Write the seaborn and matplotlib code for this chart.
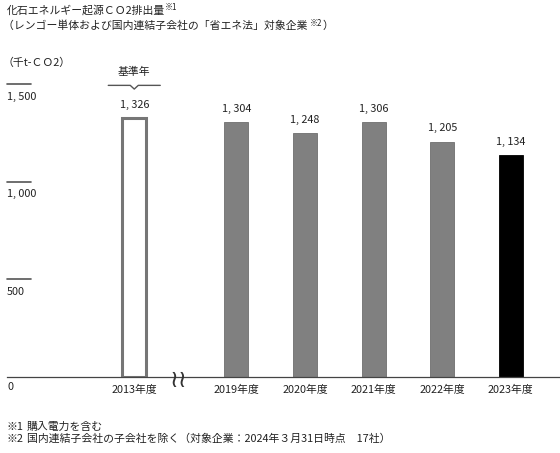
import matplotlib
matplotlib.use("Agg")
import matplotlib.pyplot as plt
import matplotlib.transforms as mtransforms
import pandas as pd
import seaborn as sns

# --- data ---
years = ["2013年度", "2019年度", "2020年度", "2021年度", "2022年度", "2023年度"]
emissions = [1326, 1304, 1248, 1306, 1205, 1134]
y_ticks = [500, 1000, 1500]
notes = [("※1", "購入電力を含む"),
         ("※2", "国内連結子会社の子会社を除く（対象企業：2024年３月31日時点　17社）")]

# --- layout / style ---
x_slots = [0.51, 2, 3, 4, 5, 6]   # gap after the base year
break_slot = 1.15
bar_fill = ["white", "#808080", "#808080", "#808080", "#808080", "#000000"]
bar_edge = ["#767676", "#6e6e6e", "#6e6e6e", "#6e6e6e", "#6e6e6e", "#000000"]
bar_lw = [2.2, 0.6, 0.6, 0.6, 0.6, 0.6]
FS = 7.8


def fmt(v):
    return f"{v:,}".replace(",", ", ")


sns.set_theme(style="white")
plt.rcParams["font.family"] = ["Noto Sans CJK JP", "DejaVu Sans"]

W, H = 560, 453
fig = plt.figure(figsize=(W / 100, H / 100), dpi=100)
ax = fig.add_axes([7 / W, (H - 377) / H, 553 / W, 293 / H])

df = pd.DataFrame({"x": x_slots, "y": emissions, "year": years})
sns.barplot(data=df, x="x", y="y", hue="year", hue_order=years,
            palette=dict(zip(years, bar_fill)), saturation=1,
            native_scale=True, width=0.35, legend=False, ax=ax)

for patch, ec, lw in zip(ax.patches, bar_edge, bar_lw):
    patch.set_edgecolor(ec)
    patch.set_linewidth(lw)

ax.set_xlim(-1.345, 6.716)
ax.set_ylim(0, 1500)
for s in ["left", "right", "top"]:
    ax.spines[s].set_visible(False)
ax.spines["bottom"].set_color("#444444")
ax.spines["bottom"].set_linewidth(0.9)
ax.set_xticks([])
ax.set_yticks([])
ax.set_xlabel("")
ax.set_ylabel("")

# y tick stubs and labels
trans = mtransforms.blended_transform_factory(ax.transAxes, ax.transData)
for v in y_ticks:
    ax.plot([0, 24 / 553], [v, v], color="#555555", lw=1.2, transform=trans,
            clip_on=False)
    ax.annotate(fmt(v), xy=(0, v), xycoords=trans,
                xytext=(0, -9), textcoords="offset points",
                ha="left", va="center", fontsize=FS, color="#222222")
ax.annotate("0", xy=(0, 0), xycoords=trans, xytext=(0, -7.5),
            textcoords="offset points", ha="left", va="center",
            fontsize=FS, color="#222222")

# value labels and year labels
for xs, v, yr in zip(x_slots, emissions, years):
    ax.annotate(fmt(v), xy=(xs, v), xytext=(0, 9.5),
                textcoords="offset points", ha="center", va="center",
                fontsize=FS, color="#222222")
    ax.annotate(yr, xy=(xs, 0), xytext=(0, -9), textcoords="offset points",
                ha="center", va="center", fontsize=FS, color="#222222")

# axis break mark
ax.annotate("≀≀", xy=(break_slot, 0), xytext=(0, -2), textcoords="offset points",
            ha="center", va="center", fontsize=17, color="#333333",
            family="DejaVu Sans")

# base-year marker
ax.annotate("基準年", xy=(x_slots[0], 1500), xytext=(0, 9),
            textcoords="offset points", ha="center", va="center",
            fontsize=FS, color="#222222")
xs0 = x_slots[0]
u = 1 / 68.6  # one pixel in x data units
mark_x = [xs0 - 26 * u, xs0 - 4 * u, xs0, xs0 + 4 * u, xs0 + 26 * u]
mark_y = [1493, 1493, 1474, 1493, 1493]
ax.plot(mark_x, mark_y, color="#555555", lw=1.0, clip_on=False)

# titles
t1 = fig.text(7 / W, 1 - 10 / H, "化石エネルギー起源ＣＯ2排出量", fontsize=FS,
              ha="left", va="center", color="#222222")
ax.annotate("※1", xy=(1, 0.75), xycoords=t1, ha="left", va="center",
            fontsize=5.8, color="#222222")
t2 = fig.text(3 / W, 1 - 26 / H,
              "（レンゴー単体および国内連結子会社の「省エネ法」対象企業 ",
              fontsize=FS, ha="left", va="center", color="#222222")
s2 = ax.annotate("※2", xy=(1, 0.75), xycoords=t2, ha="left", va="center",
                 fontsize=5.8, color="#222222")
ax.annotate("）", xy=(1, 0.25), xycoords=s2, ha="left", va="center",
            fontsize=FS, color="#222222")
fig.text(3 / W, 1 - 63 / H, "（千t-ＣＯ2）", fontsize=FS, ha="left",
         va="center", color="#222222")

# footnotes
for (mark, body), ypx in zip(notes, [427, 439]):
    fig.text(7 / W, 1 - ypx / H, mark, fontsize=FS, ha="left",
             va="center", color="#222222")
    fig.text(27 / W, 1 - ypx / H, body, fontsize=FS, ha="left",
             va="center", color="#222222")

fig.savefig("out.png", dpi=100, facecolor="white")
